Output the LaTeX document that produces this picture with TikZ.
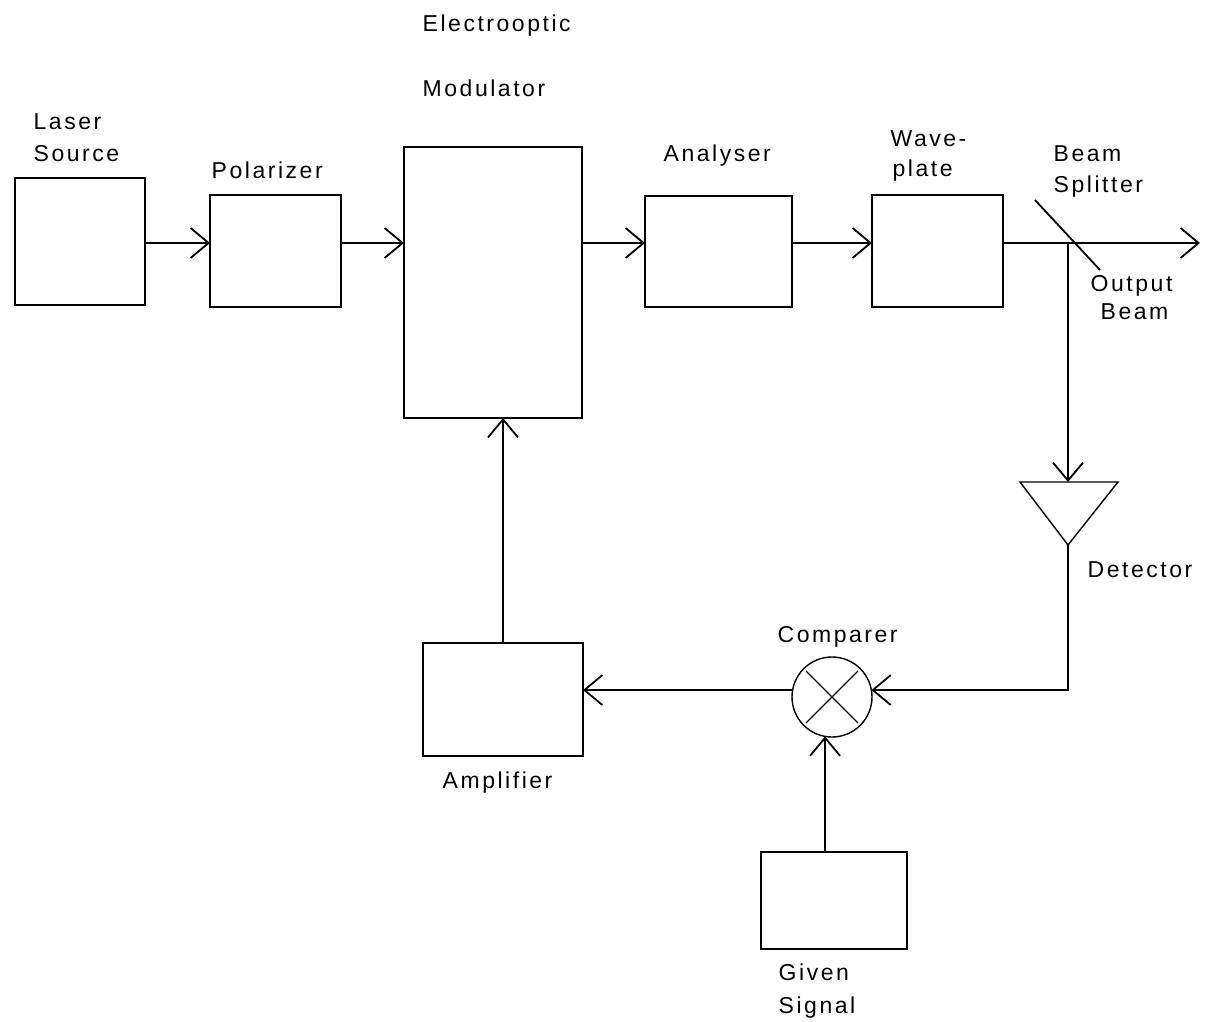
\documentclass[tikz,border=0pt]{standalone}
\usepackage{fontspec}
\setmainfont{Liberation Sans}[LetterSpace=11]
\usetikzlibrary{arrows.meta}
\begin{document}
\begin{tikzpicture}[x=0.5pt,y=-0.5pt,
  line width=0.7pt,
  blk/.style={draw, rectangle, inner sep=0pt, outer sep=0pt},
  lbl/.style={anchor=base west, inner sep=0pt, font=\fontsize{11.5pt}{13pt}\selectfont},
  arr/.style={-{Straight Barb[length=9pt,width=15pt,line width=0.9pt]}}
]
\useasboundingbox (0,0) rectangle (1207,1022);

% blocks
\node[blk, minimum width=65pt, minimum height=63.5pt] (laser) at (80,241.5) {};
\node[blk, minimum width=65.5pt, minimum height=56pt] (pol) at (275.5,251) {};
\node[blk, minimum width=89pt, minimum height=135.5pt] (mod) at (493,282.5) {};
\node[blk, minimum width=73.5pt, minimum height=55.5pt] (ana) at (718.5,251.5) {};
\node[blk, minimum width=65.5pt, minimum height=56pt] (wave) at (937.5,251) {};
\node[blk, minimum width=80pt, minimum height=56.5pt] (amp) at (503,699.5) {};
\node[blk, minimum width=73pt, minimum height=48.5pt] (sig) at (834,900.5) {};
\node[draw, circle, inner sep=0pt, outer sep=0pt, minimum size=40pt] (cmp) at (832,697) {};
\draw (cmp.center) ++(-26,-26) -- ++(52,52);
\draw (cmp.center) ++(26,-26) -- ++(-52,52);

% beam line and splitter
\coordinate (beam) at (0,243);
\coordinate (bs) at (1068,243);
\coordinate (bsA) at (1035,200);
\coordinate (bsB) at (1100,270);
\coordinate (out) at (1200,243);
\draw[line width=0.9pt] (bsA) -- (bsB);

% detector
\coordinate (dtl) at (1020,482);
\coordinate (dtr) at (1118,482);
\coordinate (det) at (1068,545);
\coordinate (dtop) at (1068,482);
\draw (dtl) -- (dtr) -- (det) -- cycle;

% connectors
\draw[arr] (laser.east |- beam) -- (pol.west |- beam);
\draw[arr] (pol.east |- beam) -- (mod.west |- beam);
\draw[arr] (mod.east |- beam) -- (ana.west |- beam);
\draw[arr] (ana.east |- beam) -- (wave.west |- beam);
\draw[arr] (wave.east |- beam) -- (out);
\draw[arr] (bs) -- (dtop);
\draw[arr] (det) |- (cmp.10);
\draw[arr] (cmp.170) -- (cmp.170 -| amp.east);
\draw[arr] (sig.north -| cmp.-100) -- (cmp.-100);
\draw[arr] (amp.north) -- (amp.north |- mod.south);

% labels
\node[lbl] (tLaser) at (33,130) {Laser};
\node[lbl] (tSource) at (33,162) {Source};
\node[lbl] (tPol) at (211,179) {Polarizer};
\node[lbl] (tElec) at (422,32) {Electrooptic};
\node[lbl] (tMod) at (422,97) {Modulator};
\node[lbl] (tAna) at (663,162) {Analyser};
\node[lbl] (tWave) at (890,147) {Wave-};
\node[lbl] (tPlate) at (892,177) {plate};
\node[lbl] (tBeam) at (1053,162) {Beam};
\node[lbl] (tSplit) at (1053,193) {Splitter};
\node[lbl] (tOut) at (1090,292) {Output};
\node[lbl] (tOBeam) at (1100,320) {Beam};
\node[lbl] (tDet) at (1087,577) {Detector};
\node[lbl] (tCmp) at (777,642) {Comparer};
\node[lbl] (tAmp) at (442,788) {Amplifier};
\node[lbl] (tGiven) at (778,980) {Given};
\node[lbl] (tSignal) at (778,1013) {Signal};
\end{tikzpicture}
\end{document}
